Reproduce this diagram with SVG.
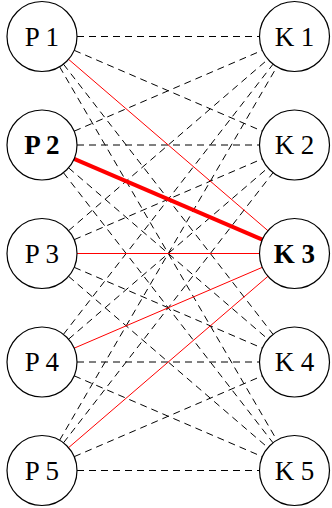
<svg xmlns="http://www.w3.org/2000/svg" width="332" height="508" viewBox="0 0 332 508">
<style>
.d{stroke:#000;stroke-width:1;stroke-dasharray:7 5;fill:none}
.r{stroke:#f00;stroke-width:1;fill:none}
.rt{stroke:#f00;stroke-width:4;fill:none}
.n circle{fill:#fff;stroke:#000;stroke-width:1.2}
.n text{font-family:"Liberation Serif","Times New Roman",serif;font-size:27px;text-anchor:middle;fill:#000}
.b text{font-weight:bold}
</style>
<rect width="332" height="508" fill="#fff"/>
<g id="connectors">
<line class="d" x1="77" y1="36.5" x2="259.5" y2="36.5"/>
<line class="d" x1="74.16" y1="50.32" x2="262.34" y2="131.18"/>
<line class="d" x1="63.45" y1="64.16" x2="273.05" y2="334.35"/>
<line class="d" x1="59.6" y1="66.75" x2="276.9" y2="440.25"/>
<line class="d" x1="74.16" y1="131.18" x2="262.34" y2="50.32"/>
<line class="d" x1="77" y1="145" x2="259.5" y2="145"/>
<line class="d" x1="68.54" y1="167.81" x2="267.96" y2="339.19"/>
<line class="d" x1="63.45" y1="172.66" x2="273.05" y2="442.85"/>
<line class="d" x1="68.54" y1="230.69" x2="267.96" y2="59.31"/>
<line class="d" x1="74.16" y1="239.68" x2="262.34" y2="158.82"/>
<line class="d" x1="74.16" y1="267.32" x2="262.34" y2="348.18"/>
<line class="d" x1="68.54" y1="276.31" x2="267.96" y2="447.69"/>
<line class="d" x1="63.45" y1="334.35" x2="273.05" y2="64.16"/>
<line class="d" x1="68.54" y1="339.19" x2="267.96" y2="167.81"/>
<line class="d" x1="77" y1="362" x2="259.5" y2="362"/>
<line class="d" x1="74.16" y1="375.82" x2="262.34" y2="456.68"/>
<line class="d" x1="59.6" y1="440.25" x2="276.9" y2="66.75"/>
<line class="d" x1="63.45" y1="442.85" x2="273.05" y2="172.66"/>
<line class="d" x1="74.16" y1="456.68" x2="262.34" y2="375.82"/>
<line class="d" x1="77" y1="470.5" x2="259.5" y2="470.5"/>
<line class="r" x1="68.54" y1="59.31" x2="267.96" y2="230.69"/>
<line class="rt" x1="74.16" y1="158.82" x2="262.34" y2="239.68"/>
<line class="r" x1="77" y1="253.5" x2="259.5" y2="253.5"/>
<line class="r" x1="74.16" y1="348.18" x2="262.34" y2="267.32"/>
<line class="r" x1="68.54" y1="447.69" x2="267.96" y2="276.31"/>
</g>
<g id="P1" class="n"><circle cx="42" cy="36.5" r="35"/><text x="42" y="45.5">P 1</text></g>
<g id="P2" class="n b"><circle cx="42" cy="145" r="35"/><text x="42" y="154">P 2</text></g>
<g id="P3" class="n"><circle cx="42" cy="253.5" r="35"/><text x="42" y="262.5">P 3</text></g>
<g id="P4" class="n"><circle cx="42" cy="362" r="35"/><text x="42" y="371">P 4</text></g>
<g id="P5" class="n"><circle cx="42" cy="470.5" r="35"/><text x="42" y="479.5">P 5</text></g>
<g id="K1" class="n"><circle cx="294.5" cy="36.5" r="35"/><text x="294.5" y="45.5">K 1</text></g>
<g id="K2" class="n"><circle cx="294.5" cy="145" r="35"/><text x="294.5" y="154">K 2</text></g>
<g id="K3" class="n b"><circle cx="294.5" cy="253.5" r="35"/><text x="294.5" y="262.5">K 3</text></g>
<g id="K4" class="n"><circle cx="294.5" cy="362" r="35"/><text x="294.5" y="371">K 4</text></g>
<g id="K5" class="n"><circle cx="294.5" cy="470.5" r="35"/><text x="294.5" y="479.5">K 5</text></g>
</svg>
